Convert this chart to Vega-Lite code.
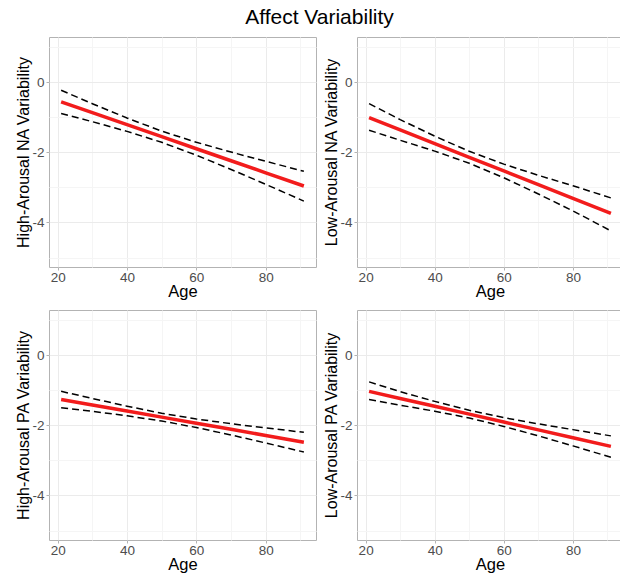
{
  "$schema": "https://vega.github.io/schema/vega-lite/v6.json",
  "background": "white",
  "padding": {"left": 15, "top": 6, "right": 0, "bottom": 0},
  "title": {"text": "Affect Variability", "fontSize": 21, "fontWeight": "normal", "color": "black", "anchor": "middle", "offset": 9},
  "datasets": {
    "curves": [
      {"panel": "HNA", "age": 21, "fit": -0.56, "lower": -0.89, "upper": -0.23},
      {"panel": "HNA", "age": 30, "fit": -0.869, "lower": -1.126, "upper": -0.612},
      {"panel": "HNA", "age": 40, "fit": -1.211, "lower": -1.401, "upper": -1.021},
      {"panel": "HNA", "age": 50, "fit": -1.554, "lower": -1.714, "upper": -1.394},
      {"panel": "HNA", "age": 60, "fit": -1.897, "lower": -2.081, "upper": -1.713},
      {"panel": "HNA", "age": 70, "fit": -2.24, "lower": -2.488, "upper": -1.992},
      {"panel": "HNA", "age": 80, "fit": -2.583, "lower": -2.911, "upper": -2.255},
      {"panel": "HNA", "age": 91, "fit": -2.96, "lower": -3.39, "upper": -2.54},
      {"panel": "LNA", "age": 21, "fit": -1.01, "lower": -1.37, "upper": -0.61},
      {"panel": "LNA", "age": 30, "fit": -1.361, "lower": -1.655, "upper": -1.067},
      {"panel": "LNA", "age": 40, "fit": -1.751, "lower": -1.964, "upper": -1.538},
      {"panel": "LNA", "age": 50, "fit": -2.141, "lower": -2.312, "upper": -1.97},
      {"panel": "LNA", "age": 60, "fit": -2.531, "lower": -2.725, "upper": -2.337},
      {"panel": "LNA", "age": 70, "fit": -2.921, "lower": -3.187, "upper": -2.655},
      {"panel": "LNA", "age": 80, "fit": -3.311, "lower": -3.669, "upper": -2.953},
      {"panel": "LNA", "age": 91, "fit": -3.74, "lower": -4.24, "upper": -3.3},
      {"panel": "HPA", "age": 21, "fit": -1.26, "lower": -1.5, "upper": -1.03},
      {"panel": "HPA", "age": 30, "fit": -1.417, "lower": -1.601, "upper": -1.233},
      {"panel": "HPA", "age": 40, "fit": -1.591, "lower": -1.728, "upper": -1.454},
      {"panel": "HPA", "age": 50, "fit": -1.766, "lower": -1.877, "upper": -1.655},
      {"panel": "HPA", "age": 60, "fit": -1.94, "lower": -2.061, "upper": -1.819},
      {"panel": "HPA", "age": 70, "fit": -2.114, "lower": -2.275, "upper": -1.953},
      {"panel": "HPA", "age": 80, "fit": -2.288, "lower": -2.503, "upper": -2.073},
      {"panel": "HPA", "age": 91, "fit": -2.48, "lower": -2.76, "upper": -2.2},
      {"panel": "LPA", "age": 21, "fit": -1.03, "lower": -1.26, "upper": -0.76},
      {"panel": "LPA", "age": 30, "fit": -1.232, "lower": -1.425, "upper": -1.039},
      {"panel": "LPA", "age": 40, "fit": -1.456, "lower": -1.596, "upper": -1.316},
      {"panel": "LPA", "age": 50, "fit": -1.681, "lower": -1.792, "upper": -1.57},
      {"panel": "LPA", "age": 60, "fit": -1.905, "lower": -2.03, "upper": -1.78},
      {"panel": "LPA", "age": 70, "fit": -2.129, "lower": -2.3, "upper": -1.958},
      {"panel": "LPA", "age": 80, "fit": -2.354, "lower": -2.586, "upper": -2.122},
      {"panel": "LPA", "age": 91, "fit": -2.6, "lower": -2.91, "upper": -2.3}
    ]
  },
  "columns": 2,
  "spacing": {"row": 8, "column": 6},
  "concat": [
    {
      "width": 267, "height": 230,
      "data": {"name": "curves"},
      "transform": [{"filter": "datum.panel === 'HNA'"}, {"fold": ["upper", "lower", "fit"], "as": ["series", "value"]}],
      "encoding": {
        "x": {"field": "age", "type": "quantitative", "title": "Age", "scale": {"domain": [17.5, 94.5], "nice": false, "zero": false},
          "axis": {"values": [20, 30, 40, 50, 60, 70, 80, 90], "labelExpr": "datum.value % 20 === 0 ? '' + datum.value : ''",
            "tickColor": {"condition": {"test": "datum.value % 20 === 0", "value": "#b3b3b3"}, "value": "transparent"},
            "gridColor": {"condition": {"test": "datum.value % 20 === 0", "value": "#ebebeb"}, "value": "#f5f5f5"}}},
        "y": {"field": "value", "type": "quantitative", "title": "High-Arousal NA Variability", "scale": {"domain": [-5.27, 1.29], "nice": false, "zero": false},
          "axis": {"values": [-5, -4, -3, -2, -1, 0, 1], "labelExpr": "datum.value % 2 === 0 ? '' + datum.value : ''",
            "tickColor": {"condition": {"test": "datum.value % 2 === 0", "value": "#b3b3b3"}, "value": "transparent"},
            "gridColor": {"condition": {"test": "datum.value % 2 === 0", "value": "#ebebeb"}, "value": "#f5f5f5"}}},
        "detail": {"field": "series"}
      },
      "layer": [
        {"transform": [{"filter": "datum.series !== 'fit'"}], "mark": {"type": "line", "color": "black", "strokeWidth": 1.5, "strokeDash": [7, 4]}},
        {"transform": [{"filter": "datum.series === 'fit'"}], "mark": {"type": "line", "color": "#f21c1c", "strokeWidth": 3.5}}
      ]
    },
    {
      "width": 266, "height": 230,
      "data": {"name": "curves"},
      "transform": [{"filter": "datum.panel === 'LNA'"}, {"fold": ["upper", "lower", "fit"], "as": ["series", "value"]}],
      "encoding": {
        "x": {"field": "age", "type": "quantitative", "title": "Age", "scale": {"domain": [17.5, 94.5], "nice": false, "zero": false},
          "axis": {"values": [20, 30, 40, 50, 60, 70, 80, 90], "labelExpr": "datum.value % 20 === 0 ? '' + datum.value : ''",
            "tickColor": {"condition": {"test": "datum.value % 20 === 0", "value": "#b3b3b3"}, "value": "transparent"},
            "gridColor": {"condition": {"test": "datum.value % 20 === 0", "value": "#ebebeb"}, "value": "#f5f5f5"}}},
        "y": {"field": "value", "type": "quantitative", "title": "Low-Arousal NA Variability", "scale": {"domain": [-5.27, 1.29], "nice": false, "zero": false},
          "axis": {"values": [-5, -4, -3, -2, -1, 0, 1], "labelExpr": "datum.value % 2 === 0 ? '' + datum.value : ''",
            "tickColor": {"condition": {"test": "datum.value % 2 === 0", "value": "#b3b3b3"}, "value": "transparent"},
            "gridColor": {"condition": {"test": "datum.value % 2 === 0", "value": "#ebebeb"}, "value": "#f5f5f5"}}},
        "detail": {"field": "series"}
      },
      "layer": [
        {"transform": [{"filter": "datum.series !== 'fit'"}], "mark": {"type": "line", "color": "black", "strokeWidth": 1.5, "strokeDash": [7, 4]}},
        {"transform": [{"filter": "datum.series === 'fit'"}], "mark": {"type": "line", "color": "#f21c1c", "strokeWidth": 3.5}}
      ]
    },
    {
      "width": 267, "height": 230,
      "data": {"name": "curves"},
      "transform": [{"filter": "datum.panel === 'HPA'"}, {"fold": ["upper", "lower", "fit"], "as": ["series", "value"]}],
      "encoding": {
        "x": {"field": "age", "type": "quantitative", "title": "Age", "scale": {"domain": [17.5, 94.5], "nice": false, "zero": false},
          "axis": {"values": [20, 30, 40, 50, 60, 70, 80, 90], "labelExpr": "datum.value % 20 === 0 ? '' + datum.value : ''",
            "tickColor": {"condition": {"test": "datum.value % 20 === 0", "value": "#b3b3b3"}, "value": "transparent"},
            "gridColor": {"condition": {"test": "datum.value % 20 === 0", "value": "#ebebeb"}, "value": "#f5f5f5"}}},
        "y": {"field": "value", "type": "quantitative", "title": "High-Arousal PA Variability", "scale": {"domain": [-5.27, 1.29], "nice": false, "zero": false},
          "axis": {"values": [-5, -4, -3, -2, -1, 0, 1], "labelExpr": "datum.value % 2 === 0 ? '' + datum.value : ''",
            "tickColor": {"condition": {"test": "datum.value % 2 === 0", "value": "#b3b3b3"}, "value": "transparent"},
            "gridColor": {"condition": {"test": "datum.value % 2 === 0", "value": "#ebebeb"}, "value": "#f5f5f5"}}},
        "detail": {"field": "series"}
      },
      "layer": [
        {"transform": [{"filter": "datum.series !== 'fit'"}], "mark": {"type": "line", "color": "black", "strokeWidth": 1.5, "strokeDash": [7, 4]}},
        {"transform": [{"filter": "datum.series === 'fit'"}], "mark": {"type": "line", "color": "#f21c1c", "strokeWidth": 3.5}}
      ]
    },
    {
      "width": 266, "height": 230,
      "data": {"name": "curves"},
      "transform": [{"filter": "datum.panel === 'LPA'"}, {"fold": ["upper", "lower", "fit"], "as": ["series", "value"]}],
      "encoding": {
        "x": {"field": "age", "type": "quantitative", "title": "Age", "scale": {"domain": [17.5, 94.5], "nice": false, "zero": false},
          "axis": {"values": [20, 30, 40, 50, 60, 70, 80, 90], "labelExpr": "datum.value % 20 === 0 ? '' + datum.value : ''",
            "tickColor": {"condition": {"test": "datum.value % 20 === 0", "value": "#b3b3b3"}, "value": "transparent"},
            "gridColor": {"condition": {"test": "datum.value % 20 === 0", "value": "#ebebeb"}, "value": "#f5f5f5"}}},
        "y": {"field": "value", "type": "quantitative", "title": "Low-Arousal PA Variability", "scale": {"domain": [-5.27, 1.29], "nice": false, "zero": false},
          "axis": {"values": [-5, -4, -3, -2, -1, 0, 1], "labelExpr": "datum.value % 2 === 0 ? '' + datum.value : ''",
            "tickColor": {"condition": {"test": "datum.value % 2 === 0", "value": "#b3b3b3"}, "value": "transparent"},
            "gridColor": {"condition": {"test": "datum.value % 2 === 0", "value": "#ebebeb"}, "value": "#f5f5f5"}}},
        "detail": {"field": "series"}
      },
      "layer": [
        {"transform": [{"filter": "datum.series !== 'fit'"}], "mark": {"type": "line", "color": "black", "strokeWidth": 1.5, "strokeDash": [7, 4]}},
        {"transform": [{"filter": "datum.series === 'fit'"}], "mark": {"type": "line", "color": "#f21c1c", "strokeWidth": 3.5}}
      ]
    }
  ],
  "config": {
    "font": "Liberation Sans",
    "view": {"stroke": "#b3b3b3", "strokeWidth": 1},
    "axis": {"domain": false, "labelColor": "#4d4d4d", "labelFontSize": 13.5, "titleFontWeight": "normal", "titleColor": "black", "tickSize": 3, "labelPadding": 2, "gridWidth": 1, "labelFont": "Liberation Sans", "titleFont": "Liberation Sans"},
    "axisX": {"titleFontSize": 16.5, "titlePadding": 0, "labelPadding": 0},
    "axisY": {"titleFontSize": 16, "titlePadding": 0},
    "title": {"font": "Liberation Sans"}
  }
}
